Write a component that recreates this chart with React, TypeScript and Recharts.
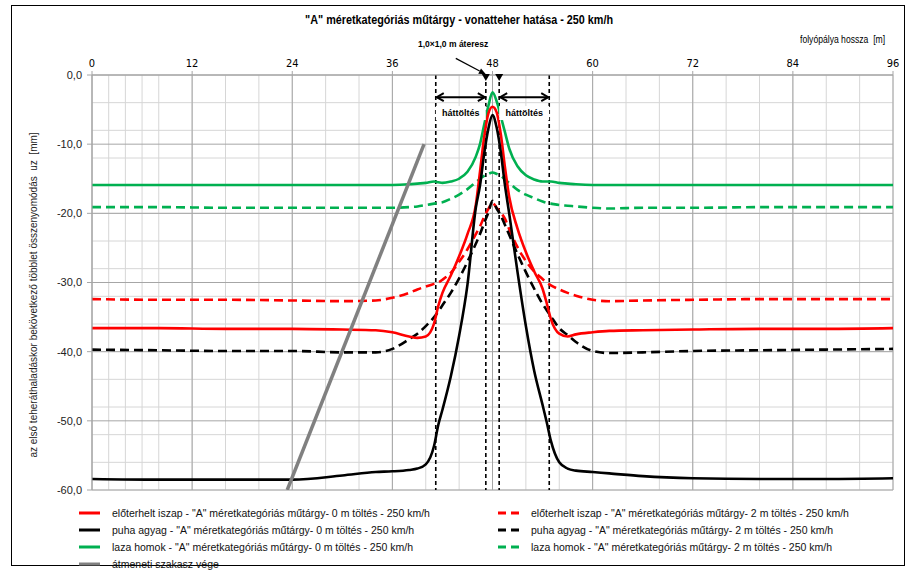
import React from "react";
import {
  LineChart,
  Line,
  XAxis,
  YAxis,
  CartesianGrid,
  ReferenceLine,
  ReferenceDot,
} from "recharts";

const FONT = "'Liberation Sans', Arial, sans-serif";
const NARROW = "'Liberation Sans Narrow', 'DejaVu Sans Condensed', 'Liberation Sans', sans-serif";

const RED = "#ff0000";
const BLACK = "#000000";
const GREEN = "#00b050";
const GRAY = "#808080";

// distance along the track [m]
const xs = [
  0, 8, 16, 24, 30, 34, 36, 38, 39, 40, 41, 41.5, 42, 43, 44, 45, 46, 46.5, 47, 47.5, 48,
  48.5, 49, 49.5, 50, 51, 52, 53, 54, 54.5, 55, 56, 57, 58, 60, 62, 66, 72, 80, 88, 96,
];

// settlement uz [mm]
const iszap0 = [
  -36.6, -36.6, -36.7, -36.7, -36.8, -36.9, -37.2, -37.8, -38.0, -37.8, -35.9, -33.4, -31.5,
  -29.0, -26.2, -23.0, -18.8, -14.0, -9.0, -5.6, -4.6, -5.4, -8.6, -13.4, -17.6, -22.2, -25.6,
  -28.4, -30.9, -33.0, -35.3, -37.4, -37.8, -37.5, -37.2, -37.0, -36.9, -36.8, -36.7, -36.7, -36.6,
];
const agyag0 = [
  -58.4, -58.5, -58.5, -58.5, -57.9, -57.4, -57.3, -57.1, -56.9, -56.3, -53.6, -50.6, -48.4,
  -43.6, -37.7, -30.3, -19.2, -16.0, -11.4, -7.8, -5.8, -7.6, -11.2, -16.0, -20.0, -28.5, -36.3,
  -42.8, -47.7, -50.2, -52.9, -56.0, -56.9, -57.2, -57.4, -57.6, -58.0, -58.3, -58.4, -58.4, -58.3,
];
const homok0 = [
  -15.9, -15.9, -15.9, -15.9, -15.9, -15.9, -15.9, -15.8, -15.7, -15.6, -15.4, -15.5, -15.6,
  -15.4, -15.0, -14.0, -11.8, -10.0, -7.2, -4.5, -2.5, -3.8, -6.0, -8.3, -10.6, -13.2, -14.5,
  -15.1, -15.4, -15.4, -15.4, -15.6, -15.7, -15.8, -15.9, -15.9, -15.9, -15.9, -15.9, -15.9, -15.9,
];
const iszap2 = [
  -32.4, -32.5, -32.5, -32.6, -32.7, -32.6, -32.2, -31.5, -31.0, -30.6, -30.2, -30.0, -29.6,
  -28.6, -27.0, -25.2, -23.0, -21.9, -20.5, -19.4, -18.5, -19.2, -19.9, -20.8, -22.3, -24.9,
  -26.9, -28.4, -29.5, -30.0, -30.4, -31.0, -31.5, -31.9, -32.5, -32.7, -32.6, -32.5, -32.4,
  -32.4, -32.4,
];
const agyag2 = [
  -39.7, -39.8, -39.9, -39.9, -40.1, -40.1, -39.6, -38.2, -37.4, -36.3, -35.0, -34.2, -33.3,
  -31.5, -29.4, -27.0, -24.4, -23.0, -21.4, -19.9, -18.2, -19.3, -20.3, -21.7, -23.1, -25.9,
  -28.5, -30.9, -33.1, -34.0, -34.9, -36.6, -37.6, -38.6, -39.9, -40.2, -40.1, -39.9, -39.8,
  -39.7, -39.6,
];
const homok2 = [
  -19.1, -19.1, -19.2, -19.2, -19.2, -19.2, -19.2, -19.1, -19.0, -18.8, -18.6, -18.5, -18.4,
  -17.9, -17.3, -16.5, -15.5, -15.0, -14.6, -14.3, -14.1, -14.3, -14.6, -15.1, -15.6, -16.6,
  -17.3, -17.8, -18.3, -18.5, -18.6, -18.8, -18.9, -19.0, -19.2, -19.3, -19.2, -19.2, -19.1,
  -19.1, -19.1,
];

// end of transition section (straight line)
const atmenetX = [23.4, 39.8];
const atmenetY = [-60, -10];

const xTicks = [0, 12, 24, 36, 48, 60, 72, 84, 96];
const yTicks = [-60, -50, -40, -30, -20, -10, 0];
const minorX = Array.from({ length: 49 }, (_, i) => i * 2);
const minorY = Array.from({ length: 31 }, (_, i) => -i * 2);

// culvert and backfill zone boundaries
const zoneX = [41.2, 47.2, 48.8, 54.8];
const culvertX = [47.2, 48.8];
const backfill = [
  { from: 41.2, to: 47.2, labelX: 44.2 },
  { from: 48.8, to: 54.8, labelX: 51.8 },
];

const names = {
  iszap0: 'előterhelt iszap - "A" méretkategóriás műtárgy- 0 m töltés - 250 km/h',
  agyag0: 'puha agyag - "A" méretkategóriás műtárgy- 0 m töltés - 250 km/h',
  homok0: 'laza homok - "A" méretkategóriás műtárgy- 0 m töltés - 250 km/h',
  atmenet: "átmeneti szakasz vége",
  iszap2: 'előterhelt iszap - "A" méretkategóriás műtárgy- 2 m töltés - 250 km/h',
  agyag2: 'puha agyag - "A" méretkategóriás műtárgy- 2 m töltés - 250 km/h',
  homok2: 'laza homok - "A" méretkategóriás műtárgy- 2 m töltés - 250 km/h',
};

const series = [
  { key: "homok2", color: GREEN, dash: "9 5", values: homok2 },
  { key: "homok0", color: GREEN, dash: undefined, values: homok0 },
  { key: "iszap2", color: RED, dash: "9 5", values: iszap2 },
  { key: "agyag2", color: BLACK, dash: "9 5", values: agyag2 },
  { key: "iszap0", color: RED, dash: undefined, values: iszap0 },
  { key: "agyag0", color: BLACK, dash: undefined, values: agyag0 },
];

const legendLeft = [
  { key: "iszap0", color: RED, dash: undefined },
  { key: "agyag0", color: BLACK, dash: undefined },
  { key: "homok0", color: GREEN, dash: undefined },
  { key: "atmenet", color: GRAY, dash: undefined },
];
const legendRight = [
  { key: "iszap2", color: RED, dash: "8 5" },
  { key: "agyag2", color: BLACK, dash: "8 5" },
  { key: "homok2", color: GREEN, dash: "8 5" },
];

const rows = xs.map((x, i) => {
  const row: Record<string, number> = { x };
  series.forEach((s) => (row[s.key] = s.values[i]));
  return row;
});
const atmenetRows = atmenetX.map((x, i) => ({ x, y: atmenetY[i] }));

const fmt = (v: number) => v.toFixed(1).replace(".", ",");

const DoubleArrow = (p: any) => {
  const { x1, y1, x2 } = p;
  const h = 4;
  const l = 8;
  return (
    <g stroke="#000" strokeWidth={2} fill="none">
      <line x1={x1 + 1} y1={y1} x2={x2 - 1} y2={y1} />
      <polyline points={`${x1 + l},${y1 - h} ${x1 + 1},${y1} ${x1 + l},${y1 + h}`} />
      <polyline points={`${x2 - l},${y1 - h} ${x2 - 1},${y1} ${x2 - l},${y1 + h}`} />
    </g>
  );
};

const PointerArrow = (p: any) => {
  const { x1, y1, x2, y2 } = p;
  const a = Math.atan2(y2 - y1, x2 - x1);
  const l = 7;
  const w = 3;
  const bx = x2 - l * Math.cos(a);
  const by = y2 - l * Math.sin(a);
  const nx = -Math.sin(a) * w;
  const ny = Math.cos(a) * w;
  return (
    <g>
      <line x1={x1} y1={y1} x2={bx} y2={by} stroke="#000" strokeWidth={1.2} />
      <polygon points={`${x2},${y2} ${bx + nx},${by + ny} ${bx - nx},${by - ny}`} fill="#000" />
    </g>
  );
};

const DownTriangle = (p: any) => {
  const { cx, cy } = p;
  return <polygon points={`${cx - 4},${cy - 3} ${cx + 4},${cy - 3} ${cx},${cy + 4}`} fill="#000" />;
};

const BackfillLabel = (p: any) => {
  const { cx, cy } = p;
  return (
    <g>
      <rect x={cx - 25} y={cy - 7} width={50} height={14} fill="#fff" />
      <text
        x={cx}
        y={cy}
        textAnchor="middle"
        dominantBaseline="central"
        fontFamily={FONT}
        fontWeight="bold"
        fontSize={9}
        fill="#000"
      >
        háttöltés
      </text>
    </g>
  );
};

const LegendItem = ({ item }: { item: { key: string; color: string; dash?: string } }) => (
  <div style={{ display: "flex", alignItems: "center", height: 17 }}>
    <svg width={34} height={10} style={{ flex: "none" }}>
      <line
        x1={1}
        y1={5}
        x2={22}
        y2={5}
        stroke={item.color}
        strokeWidth={3}
        strokeDasharray={item.dash}
      />
    </svg>
    <span style={{ whiteSpace: "pre" }}>{names[item.key as keyof typeof names]}</span>
  </div>
);

export default function App() {
  return (
    <div
      style={{
        position: "absolute",
        left: 0,
        top: 0,
        width: 916,
        height: 574,
        background: "#fff",
        fontFamily: FONT,
      }}
    >
      <div
        style={{
          position: "absolute",
          left: 11,
          top: 5,
          width: 894,
          height: 561,
          border: "1px solid #000",
          boxSizing: "border-box",
        }}
      />
      <div
        style={{
          position: "absolute",
          left: 0,
          width: 918,
          top: 10,
          textAlign: "center",
        }}
      >
        <span
          style={{
            display: "inline-block",
            fontWeight: "bold",
            fontSize: 12,
            whiteSpace: "pre",
            transform: "scaleX(0.9)",
            transformOrigin: "center",
          }}
        >
          "A" méretkategóriás műtárgy - vonatteher hatása - 250 km/h
        </span>
      </div>
      <div
        style={{
          position: "absolute",
          left: 800,
          top: 34,
          fontSize: 10,
          whiteSpace: "pre",
          transform: "scaleX(0.86)",
          transformOrigin: "left",
        }}
      >
        folyópálya hossza  [m]
      </div>
      <div
        style={{
          position: "absolute",
          left: 418,
          top: 39,
          fontWeight: "bold",
          fontSize: 8.5,
          whiteSpace: "pre",
        }}
      >
        1,0×1,0 m áteresz
      </div>
      <div
        style={{
          position: "absolute",
          left: 33,
          top: 295,
          fontSize: 10,
          color: "#222",
          whiteSpace: "pre",
          transform: "translate(-50%, -50%) rotate(-90deg)",
        }}
      >
        az első teheráthaladáskor bekövetkező többlet összenyomódás  uz  [mm]
      </div>

      <div style={{ position: "absolute", left: 0, top: 0 }}>
        <LineChart
          width={916}
          height={574}
          data={rows}
          margin={{ top: 55, left: 32, right: 23, bottom: 84 }}
        >
          <CartesianGrid
            verticalValues={minorX}
            horizontalValues={minorY}
            stroke="#d6d6d6"
            strokeWidth={1}
          />
          <CartesianGrid stroke="#a6a6a6" strokeWidth={1} />
          <XAxis
            dataKey="x"
            type="number"
            orientation="top"
            domain={[0, 96]}
            ticks={xTicks}
            height={20}
            tickSize={4}
            tickMargin={4}
            stroke="#a6a6a6"
            tick={{ fill: "#000", fontSize: 11, fontFamily: NARROW }}
            allowDataOverflow
          />
          <YAxis
            type="number"
            domain={[-60, 0]}
            ticks={yTicks}
            width={60}
            tickSize={5}
            tickMargin={5}
            stroke="#a6a6a6"
            tickFormatter={fmt}
            tick={{ fill: "#222", fontSize: 11, fontFamily: FONT }}
            allowDataOverflow
          />
          {zoneX.map((x) => (
            <ReferenceLine
              key={`z${x}`}
              x={x}
              stroke="#000"
              strokeWidth={1.6}
              strokeDasharray="4 3"
            />
          ))}
          {series.map((s) => (
            <Line
              key={s.key}
              dataKey={s.key}
              type="monotone"
              stroke={s.color}
              strokeWidth={2.6}
              strokeDasharray={s.dash}
              dot={false}
              activeDot={false}
              isAnimationActive={false}
            />
          ))}
          <Line
            data={atmenetRows}
            dataKey="y"
            type="linear"
            stroke={GRAY}
            strokeWidth={3.5}
            dot={false}
            activeDot={false}
            isAnimationActive={false}
          />
          {backfill.map((b) => (
            <ReferenceLine
              key={`a${b.from}`}
              segment={[
                { x: b.from, y: -3.2 },
                { x: b.to, y: -3.2 },
              ]}
              shape={DoubleArrow}
            />
          ))}
          {backfill.map((b) => (
            <ReferenceDot
              key={`l${b.from}`}
              x={b.labelX}
              y={-5.5}
              r={0}
              shape={BackfillLabel}
            />
          ))}
          {culvertX.map((x) => (
            <ReferenceDot
              key={`t${x}`}
              x={x}
              y={-0.3}
              r={0}
              shape={DownTriangle}
              ifOverflow="visible"
            />
          ))}
          <ReferenceLine
            segment={[
              { x: 43.6, y: 2.4 },
              { x: 47.2, y: 0.1 },
            ]}
            shape={PointerArrow}
            ifOverflow="visible"
          />
        </LineChart>
      </div>

      <div style={{ position: "absolute", left: 78, top: 504, fontSize: 10.5, color: "#111" }}>
        {legendLeft.map((it) => (
          <LegendItem key={it.key} item={it} />
        ))}
      </div>
      <div style={{ position: "absolute", left: 497, top: 504, fontSize: 10.5, color: "#111" }}>
        {legendRight.map((it) => (
          <LegendItem key={it.key} item={it} />
        ))}
      </div>
    </div>
  );
}
